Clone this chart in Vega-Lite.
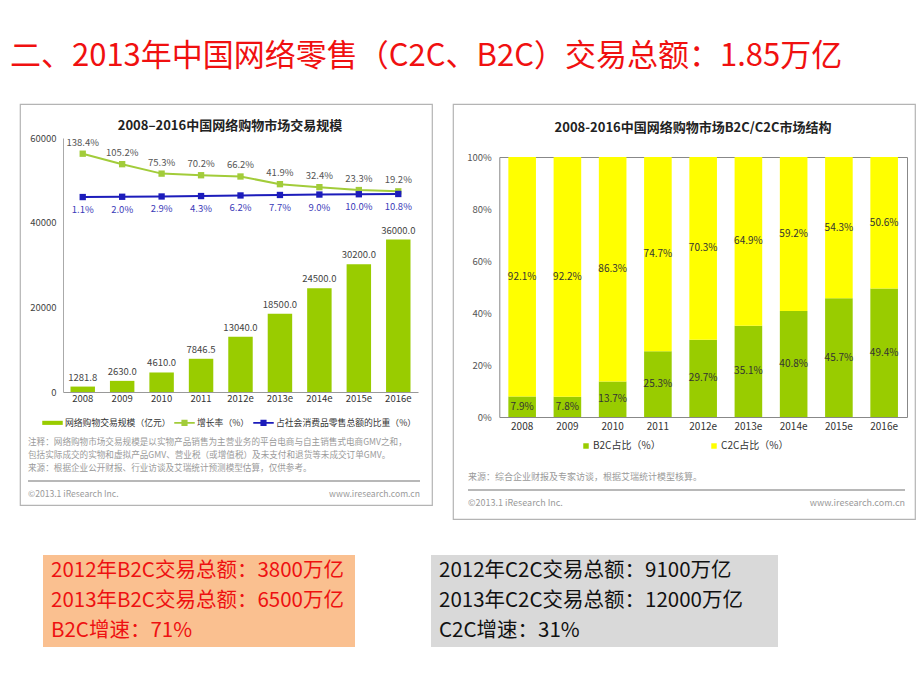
{
  "$schema": "https://vega.github.io/schema/vega-lite/v6.json",
  "background": "white",
  "padding": {"left": 10, "top": 41, "right": 5, "bottom": 5},
  "title": {"text": "二、2013年中国网络零售（C2C、B2C）交易总额：1.85万亿", "anchor": "start", "fontSize": 31, "fontWeight": "normal", "color": "#F01010", "offset": 30},
  "config": {
    "font": "Noto Sans CJK SC",
    "view": {"stroke": null},
    "axis": {"grid": false, "ticks": false, "title": null, "labelFont": "Noto Sans CJK SC"},
    "legend": {"labelFont": "Noto Sans CJK SC"},
    "title": {"font": "Noto Sans CJK SC"},
    "text": {"font": "Noto Sans CJK SC"}
  },
  "datasets": {
    "scale": [
      {"year": "2008", "series": "网络购物交易规模（亿元）", "value": 1281.8},
      {"year": "2009", "series": "网络购物交易规模（亿元）", "value": 2630.0},
      {"year": "2010", "series": "网络购物交易规模（亿元）", "value": 4610.0},
      {"year": "2011", "series": "网络购物交易规模（亿元）", "value": 7846.5},
      {"year": "2012e", "series": "网络购物交易规模（亿元）", "value": 13040.0},
      {"year": "2013e", "series": "网络购物交易规模（亿元）", "value": 18500.0},
      {"year": "2014e", "series": "网络购物交易规模（亿元）", "value": 24500.0},
      {"year": "2015e", "series": "网络购物交易规模（亿元）", "value": 30200.0},
      {"year": "2016e", "series": "网络购物交易规模（亿元）", "value": 36000.0}
    ],
    "rates": [
      {"year": "2008", "series": "增长率（%）", "rate": 1.384},
      {"year": "2009", "series": "增长率（%）", "rate": 1.052},
      {"year": "2010", "series": "增长率（%）", "rate": 0.753},
      {"year": "2011", "series": "增长率（%）", "rate": 0.702},
      {"year": "2012e", "series": "增长率（%）", "rate": 0.662},
      {"year": "2013e", "series": "增长率（%）", "rate": 0.419},
      {"year": "2014e", "series": "增长率（%）", "rate": 0.324},
      {"year": "2015e", "series": "增长率（%）", "rate": 0.233},
      {"year": "2016e", "series": "增长率（%）", "rate": 0.192},
      {"year": "2008", "series": "占社会消费品零售总额的比重（%）", "rate": 0.011},
      {"year": "2009", "series": "占社会消费品零售总额的比重（%）", "rate": 0.020},
      {"year": "2010", "series": "占社会消费品零售总额的比重（%）", "rate": 0.029},
      {"year": "2011", "series": "占社会消费品零售总额的比重（%）", "rate": 0.043},
      {"year": "2012e", "series": "占社会消费品零售总额的比重（%）", "rate": 0.062},
      {"year": "2013e", "series": "占社会消费品零售总额的比重（%）", "rate": 0.077},
      {"year": "2014e", "series": "占社会消费品零售总额的比重（%）", "rate": 0.090},
      {"year": "2015e", "series": "占社会消费品零售总额的比重（%）", "rate": 0.100},
      {"year": "2016e", "series": "占社会消费品零售总额的比重（%）", "rate": 0.108}
    ],
    "leftNotes": [
      {"line": "n1", "side": "l", "text": "注释：网络购物市场交易规模是以实物产品销售为主营业务的平台电商与自主销售式电商GMV之和，"},
      {"line": "n2", "side": "l", "text": "包括实际成交的实物和虚拟产品GMV、营业税（或增值税）及未支付和退货等未成交订单GMV。"},
      {"line": "n3", "side": "l", "text": "来源：根据企业公开财报、行业访谈及艾瑞统计预测模型估算，仅供参考。"},
      {"line": "rule", "side": "rule", "text": ""},
      {"line": "foot", "side": "l", "text": "©2013.1 iResearch Inc."},
      {"line": "foot", "side": "r", "text": "www.iresearch.com.cn"}
    ],
    "struct": [
      {"year": "2008", "type": "B2C占比（%）", "share": 0.079},
      {"year": "2009", "type": "B2C占比（%）", "share": 0.078},
      {"year": "2010", "type": "B2C占比（%）", "share": 0.137},
      {"year": "2011", "type": "B2C占比（%）", "share": 0.253},
      {"year": "2012e", "type": "B2C占比（%）", "share": 0.297},
      {"year": "2013e", "type": "B2C占比（%）", "share": 0.351},
      {"year": "2014e", "type": "B2C占比（%）", "share": 0.408},
      {"year": "2015e", "type": "B2C占比（%）", "share": 0.457},
      {"year": "2016e", "type": "B2C占比（%）", "share": 0.494},
      {"year": "2008", "type": "C2C占比（%）", "share": 0.921},
      {"year": "2009", "type": "C2C占比（%）", "share": 0.922},
      {"year": "2010", "type": "C2C占比（%）", "share": 0.863},
      {"year": "2011", "type": "C2C占比（%）", "share": 0.747},
      {"year": "2012e", "type": "C2C占比（%）", "share": 0.703},
      {"year": "2013e", "type": "C2C占比（%）", "share": 0.649},
      {"year": "2014e", "type": "C2C占比（%）", "share": 0.592},
      {"year": "2015e", "type": "C2C占比（%）", "share": 0.543},
      {"year": "2016e", "type": "C2C占比（%）", "share": 0.506}
    ],
    "rightNotes": [
      {"line": "src", "side": "l", "text": "来源：综合企业财报及专家访谈，根据艾瑞统计模型核算。"},
      {"line": "rule", "side": "rule", "text": ""},
      {"line": "foot", "side": "l", "text": "©2013.1 iResearch Inc."},
      {"line": "foot", "side": "r", "text": "www.iresearch.com.cn"}
    ],
    "b2cBox": [
      {"line": "1", "text": "2012年B2C交易总额：3800万亿"},
      {"line": "2", "text": "2013年B2C交易总额：6500万亿"},
      {"line": "3", "text": "B2C增速：71%"}
    ],
    "c2cBox": [
      {"line": "1", "text": "2012年C2C交易总额：9100万亿"},
      {"line": "2", "text": "2013年C2C交易总额：12000万亿"},
      {"line": "3", "text": "C2C增速：31%"}
    ]
  },
  "spacing": 35,
  "vconcat": [
    {
      "spacing": 9,
      "bounds": "flush",
      "hconcat": [
        {"width": 1, "height": 415, "data": {"values": [{}]}, "mark": {"type": "point", "opacity": 0, "size": 1}, "encoding": {}},
        {
          "spacing": 21,
          "bounds": "flush",
          "resolve": {"scale": {"color": "independent"}, "legend": {"color": "independent"}},
          "hconcat": [
            {
              "width": 412,
              "height": 401,
              "view": {"stroke": "#B4B4B4", "strokeWidth": 1.2},
              "title": {"text": "2008–2016中国网络购物市场交易规模", "fontSize": 13, "fontWeight": "bold", "color": "#222222", "offset": -29, "dx": 4, "anchor": "middle"},
              "layer": [
                {
                  "data": {"name": "scale"},
                  "encoding": {
                    "x": {"field": "year", "type": "ordinal", "scale": {"type": "band", "range": [43, 398], "paddingInner": 0.38, "paddingOuter": 0.19},
                          "axis": {"offset": -113, "domainColor": "#999999", "labelPadding": 1, "labelFontSize": 9.5, "labelColor": "#333333", "labelAngle": 0}},
                    "y": {"field": "value", "type": "quantitative", "scale": {"domain": [0, 60000], "range": [288, 34], "nice": false},
                          "axis": {"offset": -43, "values": [0, 20000, 40000, 60000], "format": "d", "domainColor": "#AAAAAA", "labelPadding": 7, "labelFontSize": 9.5, "labelColor": "#444444"}}
                  },
                  "layer": [
                    {
                      "mark": {"type": "bar"},
                      "encoding": {
                        "color": {"field": "series", "type": "nominal",
                          "scale": {"domain": ["网络购物交易规模（亿元）", "增长率（%）", "占社会消费品零售总额的比重（%）"], "range": ["#99CC00", "#A2CC3A", "#1C1CBB"]},
                          "legend": {"orient": "none", "legendX": 22, "legendY": 308, "direction": "horizontal", "title": null,
                            "labelFontSize": 8.8, "labelColor": "#333333", "labelOffset": 2, "columnPadding": 3,
                            "symbolType": "M-1,-0.08H-0.3V-0.3H0.3V-0.08H1V0.08H0.3V0.3H-0.3V0.08H-1Z", "symbolSize": 420, "symbolStrokeWidth": 0,
                            "encode": {"symbols": {"update": {"shape": {"signal": "datum.value === '网络购物交易规模（亿元）' ? 'M-1,-0.2H1V0.2H-1Z' : 'M-1,-0.08H-0.3V-0.3H0.3V-0.08H1V0.08H0.3V0.3H-0.3V0.08H-1Z'"}}}}}
                        }
                      }
                    },
                    {
                      "mark": {"type": "text", "dy": -9, "fontSize": 9.5, "color": "#444444"},
                      "encoding": {"text": {"field": "value", "type": "quantitative", "format": ".1f"}}
                    }
                  ]
                },
                {
                  "data": {"name": "rates"},
                  "encoding": {
                    "x": {"field": "year", "type": "ordinal", "scale": {"type": "band", "range": [43, 398], "paddingInner": 0.38, "paddingOuter": 0.19}, "axis": null},
                    "y": {"field": "rate", "type": "quantitative", "scale": {"domain": [0, 1.384], "range": [93.4, 49.7], "nice": false, "zero": false}, "axis": null}
                  },
                  "layer": [
                    {
                      "mark": {"type": "line", "strokeWidth": 2, "point": {"shape": "square", "size": 40, "filled": true}},
                      "encoding": {"color": {"field": "series", "type": "nominal"}}
                    },
                    {
                      "transform": [{"filter": "datum.series === '增长率（%）'"}],
                      "mark": {"type": "text", "dy": -11, "fontSize": 9.5, "color": "#555555"},
                      "encoding": {"text": {"field": "rate", "type": "quantitative", "format": ".1%"}}
                    },
                    {
                      "transform": [{"filter": "datum.series !== '增长率（%）'"}],
                      "mark": {"type": "text", "dy": 13, "fontSize": 9.5, "color": "#3A3AB8"},
                      "encoding": {"text": {"field": "rate", "type": "quantitative", "format": ".1%"}}
                    }
                  ]
                },
                {
                  "data": {"name": "leftNotes"},
                  "encoding": {
                    "y": {"field": "line", "type": "ordinal", "scale": {"type": "point", "padding": 0, "domain": ["n1", "n2", "n3", "rule", "foot"], "range": [338, 390]}, "axis": null}
                  },
                  "layer": [
                    {
                      "transform": [{"filter": "datum.side === 'l'"}],
                      "mark": {"type": "text", "align": "left", "fontSize": 8.6, "color": "#9A9A9A"},
                      "encoding": {"x": {"datum": 0, "type": "quantitative", "scale": {"domain": [0, 1], "range": [8, 400]}, "axis": null}, "text": {"field": "text"}}
                    },
                    {
                      "transform": [{"filter": "datum.side === 'r'"}],
                      "mark": {"type": "text", "align": "right", "fontSize": 8.6, "color": "#9A9A9A"},
                      "encoding": {"x": {"datum": 1, "type": "quantitative"}, "text": {"field": "text"}}
                    },
                    {
                      "transform": [{"filter": "datum.side === 'rule'"}],
                      "mark": {"type": "rule", "color": "#A0A0A0", "strokeWidth": 1.5},
                      "encoding": {"x": {"datum": 0, "type": "quantitative"}, "x2": {"datum": 1}}
                    }
                  ]
                }
              ],
              "resolve": {"scale": {"x": "independent", "y": "independent"}}
            },
            {
              "width": 462,
              "height": 415,
              "view": {"stroke": "#B4B4B4", "strokeWidth": 1.2},
              "title": {"text": "2008-2016中国网络购物市场B2C/C2C市场结构", "fontSize": 13, "fontWeight": "bold", "color": "#222222", "offset": -31, "dx": 9, "anchor": "middle"},
              "layer": [
                {
                  "data": {"name": "struct"},
                  "layer": [
                    {
                      "mark": {"type": "bar"},
                      "encoding": {
                        "x": {"field": "year", "type": "ordinal", "scale": {"type": "band", "range": [46.3, 454], "paddingInner": 0.39, "paddingOuter": 0.2},
                              "axis": {"offset": -102, "domainColor": "#888888", "labelPadding": 4, "labelFontSize": 10, "labelColor": "#333333", "labelAngle": 0}},
                        "y": {"field": "share", "type": "quantitative", "stack": "zero", "scale": {"domain": [0, 1], "range": [313, 53], "nice": false},
                              "axis": {"offset": -46.3, "values": [0, 0.2, 0.4, 0.6, 0.8, 1], "format": ".0%", "domainColor": "#888888", "labelPadding": 8, "labelFontSize": 9.5, "labelColor": "#555555"}},
                        "color": {"field": "type", "type": "nominal",
                          "scale": {"domain": ["B2C占比（%）", "C2C占比（%）"], "range": ["#99CC00", "#FFFF00"]},
                          "legend": {"orient": "none", "legendX": 128, "legendY": 337, "direction": "horizontal", "title": null, "symbolType": "square", "symbolSize": 30, "symbolStrokeWidth": 0, "labelFontSize": 10, "labelColor": "#333333", "labelOffset": 2, "columnPadding": 48}},
                        "order": {"field": "type", "type": "ordinal", "sort": "ascending"}
                      }
                    },
                    {
                      "transform": [
                        {"stack": "share", "groupby": ["year"], "sort": [{"field": "type", "order": "ascending"}], "as": ["s0", "s1"]},
                        {"fold": ["s0", "s1"], "as": ["edge", "pos"]},
                        {"aggregate": [{"op": "mean", "field": "pos", "as": "mid"}, {"op": "max", "field": "share", "as": "share"}], "groupby": ["year", "type"]}
                      ],
                      "mark": {"type": "text", "fontSize": 10, "color": "#333333"},
                      "encoding": {
                        "x": {"field": "year", "type": "ordinal", "axis": {"orient": "top", "offset": -53, "labels": false, "domainColor": "#888888"}},
                        "y": {"field": "mid", "type": "quantitative", "axis": {"orient": "right", "offset": -8, "labels": false, "domainColor": "#888888"}},
                        "text": {"field": "share", "type": "quantitative", "format": ".1%"}
                      }
                    }
                  ],
                  "resolve": {"axis": {"x": "independent", "y": "independent"}}
                },
                {
                  "data": {"name": "rightNotes"},
                  "encoding": {
                    "y": {"field": "line", "type": "ordinal", "scale": {"type": "point", "padding": 0, "domain": ["src", "rule", "foot"], "range": [373, 399]}, "axis": null}
                  },
                  "layer": [
                    {
                      "transform": [{"filter": "datum.side === 'l'"}],
                      "mark": {"type": "text", "align": "left", "fontSize": 9, "color": "#9A9A9A"},
                      "encoding": {"x": {"datum": 0, "type": "quantitative", "scale": {"domain": [0, 1], "range": [15, 452]}, "axis": null}, "text": {"field": "text"}}
                    },
                    {
                      "transform": [{"filter": "datum.side === 'r'"}],
                      "mark": {"type": "text", "align": "right", "fontSize": 9, "color": "#9A9A9A"},
                      "encoding": {"x": {"datum": 1, "type": "quantitative"}, "text": {"field": "text"}}
                    },
                    {
                      "transform": [{"filter": "datum.side === 'rule'"}],
                      "mark": {"type": "rule", "color": "#A0A0A0", "strokeWidth": 1.5},
                      "encoding": {"x": {"datum": 0, "type": "quantitative"}, "x2": {"datum": 1}}
                    }
                  ]
                }
              ],
              "resolve": {"scale": {"x": "independent", "y": "independent"}}
            }
          ]
        }
      ]
    },
    {
      "spacing": 10,
      "bounds": "flush",
      "hconcat": [
        {"width": 23, "height": 92, "data": {"values": [{}]}, "mark": {"type": "point", "opacity": 0, "size": 1}, "encoding": {}},
        {
          "width": 312, "height": 92,
          "view": {"fill": "#FAC090", "stroke": null},
          "data": {"name": "b2cBox"},
          "mark": {"type": "text", "align": "left", "dx": 8, "fontSize": 20.5, "color": "#EE1111"},
          "encoding": {
            "x": {"datum": 0, "type": "quantitative", "scale": {"domain": [0, 1]}, "axis": null},
            "y": {"field": "line", "type": "ordinal", "scale": {"type": "point", "padding": 0.54}, "axis": null},
            "text": {"field": "text"}
          }
        },
        {"width": 56, "height": 92, "data": {"values": [{}]}, "mark": {"type": "point", "opacity": 0, "size": 1}, "encoding": {}},
        {
          "width": 347, "height": 92,
          "view": {"fill": "#D9D9D9", "stroke": null},
          "data": {"name": "c2cBox"},
          "mark": {"type": "text", "align": "left", "dx": 8, "fontSize": 20.5, "color": "#111111"},
          "encoding": {
            "x": {"datum": 0, "type": "quantitative", "scale": {"domain": [0, 1]}, "axis": null},
            "y": {"field": "line", "type": "ordinal", "scale": {"type": "point", "padding": 0.54}, "axis": null},
            "text": {"field": "text"}
          }
        }
      ]
    }
  ]
}
